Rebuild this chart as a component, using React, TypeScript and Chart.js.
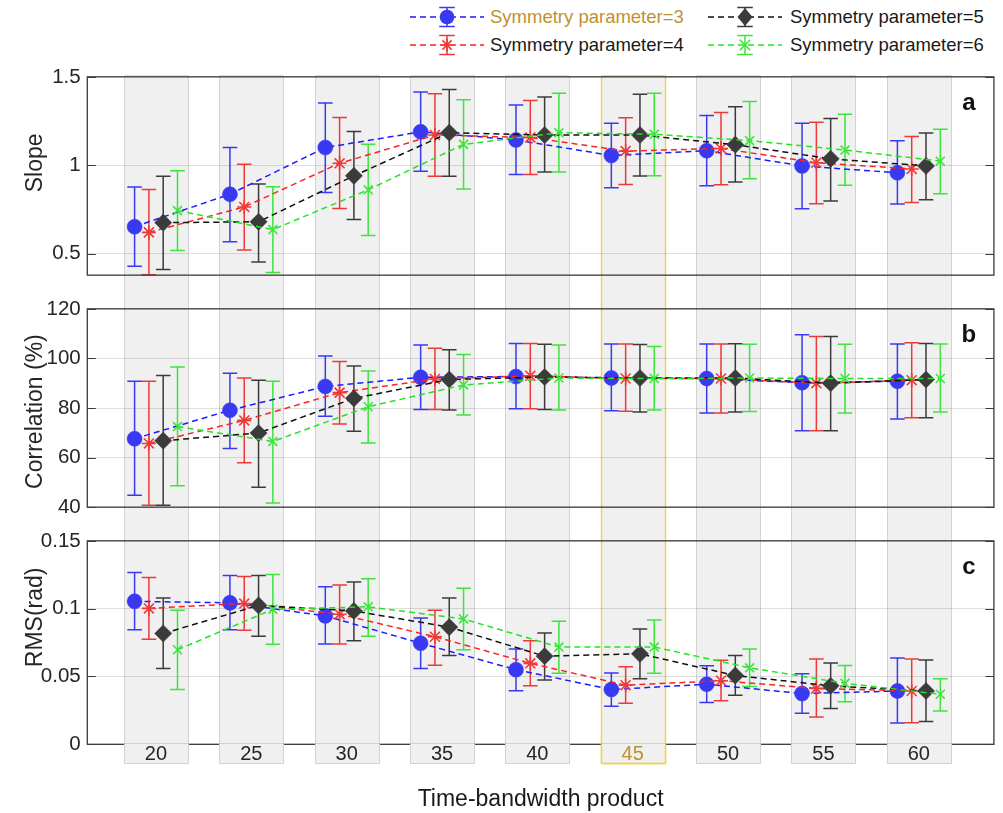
import React, { useEffect, useRef } from 'react';
import { Chart, registerables } from 'chart.js';

Chart.register(...registerables);

const FONT = '"Liberation Sans", Arial, Helvetica, sans-serif';
const AXIS_TEXT = '#262626';
const GOLD_TEXT = '#bf912e';

// Time-bandwidth product categories
const productValues = [20, 25, 30, 35, 40, 45, 50, 55, 60];
const highlightedProduct = 45;
const symmetryParams = [3, 4, 5, 6];

// Slope (mean, lower and upper error bar ends)
const slopeMean3 = [0.652, 0.836, 1.1, 1.189, 1.143, 1.055, 1.082, 0.996, 0.957];
const slopeLow3 = [0.428, 0.567, 0.846, 0.966, 0.948, 0.873, 0.884, 0.753, 0.78];
const slopeHigh3 = [0.877, 1.1, 1.352, 1.414, 1.341, 1.237, 1.282, 1.237, 1.138];
const slopeMean4 = [0.62, 0.764, 1.011, 1.171, 1.157, 1.08, 1.095, 1.014, 0.979];
const slopeLow4 = [0.38, 0.521, 0.755, 0.937, 0.948, 0.891, 0.889, 0.782, 0.789];
const slopeHigh4 = [0.862, 1.005, 1.27, 1.404, 1.366, 1.268, 1.298, 1.243, 1.162];
const slopeMean5 = [0.675, 0.68, 0.94, 1.184, 1.171, 1.171, 1.116, 1.036, 0.996];
const slopeLow5 = [0.41, 0.452, 0.693, 0.937, 0.961, 0.939, 0.905, 0.798, 0.805];
const slopeHigh5 = [0.937, 0.894, 1.191, 1.429, 1.386, 1.402, 1.331, 1.264, 1.182];
const slopeMean6 = [0.743, 0.636, 0.861, 1.118, 1.184, 1.175, 1.139, 1.086, 1.023];
const slopeLow6 = [0.518, 0.393, 0.603, 0.866, 0.961, 0.941, 0.923, 0.886, 0.839];
const slopeHigh6 = [0.968, 0.878, 1.118, 1.37, 1.407, 1.407, 1.361, 1.288, 1.204];

// Correlation (%)
const corrMean3 = [67.6, 79.1, 88.7, 92.4, 92.7, 92.1, 91.9, 90.2, 90.8];
const corrLow3 = [44.8, 63.7, 76.7, 79.4, 79.7, 78.9, 78.0, 70.8, 75.6];
const corrHigh3 = [90.8, 94.0, 101.0, 105.4, 106.0, 105.8, 105.8, 109.6, 105.8];
const corrMean4 = [65.7, 75.0, 86.2, 91.7, 93.0, 91.9, 91.9, 90.0, 91.2];
const corrLow4 = [40.8, 57.9, 73.5, 79.4, 79.7, 78.7, 78.0, 70.8, 76.1];
const corrHigh4 = [90.8, 92.1, 98.8, 104.1, 106.0, 105.8, 105.8, 108.8, 106.3];
const corrMean5 = [66.8, 69.9, 83.9, 91.5, 92.5, 92.1, 92.1, 90.0, 91.5];
const corrLow5 = [40.8, 48.0, 70.6, 79.2, 79.4, 78.4, 78.4, 70.8, 76.1];
const corrHigh5 = [93.1, 91.2, 96.9, 103.5, 105.7, 105.6, 105.9, 108.8, 106.0];
const corrMean6 = [72.5, 66.5, 80.5, 89.3, 92.1, 91.9, 92.1, 91.9, 91.9];
const corrLow6 = [48.6, 41.7, 65.9, 77.2, 79.2, 79.2, 78.6, 78.0, 78.4];
const corrHigh6 = [96.5, 90.8, 94.9, 101.6, 105.4, 104.8, 105.7, 105.7, 105.8];

// RMS (rad)
const rmsMean3 = [0.1054, 0.1043, 0.0947, 0.0745, 0.055, 0.0404, 0.0443, 0.0374, 0.0393];
const rmsLow3 = [0.0845, 0.0845, 0.074, 0.0559, 0.0395, 0.0281, 0.0309, 0.0229, 0.0157];
const rmsHigh3 = [0.1266, 0.1245, 0.1162, 0.0931, 0.0702, 0.0526, 0.0579, 0.0521, 0.0636];
const rmsMean4 = [0.1002, 0.1038, 0.0959, 0.0793, 0.0597, 0.0436, 0.0469, 0.0412, 0.0393];
const rmsLow4 = [0.0774, 0.084, 0.074, 0.0583, 0.0431, 0.0302, 0.0321, 0.0202, 0.0159];
const rmsHigh4 = [0.123, 0.1238, 0.1174, 0.0988, 0.0764, 0.0571, 0.0619, 0.0629, 0.0629];
const rmsMean5 = [0.0817, 0.1024, 0.0983, 0.0864, 0.065, 0.0667, 0.0507, 0.0431, 0.0393];
const rmsLow5 = [0.0559, 0.0797, 0.0764, 0.0655, 0.0474, 0.0483, 0.0362, 0.0264, 0.0169];
const rmsHigh5 = [0.1079, 0.1245, 0.1197, 0.1079, 0.0821, 0.085, 0.0655, 0.06, 0.0621];
const rmsMean6 = [0.0697, 0.0995, 0.1014, 0.0924, 0.0717, 0.0717, 0.0564, 0.045, 0.0369];
const rmsLow6 = [0.0404, 0.0738, 0.0797, 0.0697, 0.0524, 0.0524, 0.0426, 0.0314, 0.0245];
const rmsHigh6 = [0.0988, 0.1252, 0.1221, 0.115, 0.0907, 0.0917, 0.0702, 0.0581, 0.0483];

// Axis ticks
const slopeTicks = [0.5, 1, 1.5];
const correlationTicks = [40, 60, 80, 100, 120];
const rmsTicks = [0, 0.05, 0.1, 0.15];

// Series styling
const seriesLineColors = ['#1c1cff', '#ff2222', '#111111', '#22e422'];
const seriesMarkColors = ['#3939f2', '#ec3a3a', '#3b3b3b', '#3ce43c'];
const seriesPointStyles = ['circle', 'star', 'rectRot', 'crossRot'];
const seriesPointRadius = [7.5, 7, 8.6, 6.3];
const seriesShift = [-1.12, -0.37, 0.38, 1.13];

const X_MIN = 16.4;
const X_MAX = 63.94;
const BAND_HALF = 1.68;
const CAP_HALF = 7.3;

type PanelDef = {
  letter: string;
  title: string;
  titleY: number; // vertical centre of the axis title, measured from the plot top
  min: number;
  max: number;
  ticks: number[];
  means: number[][];
  lows: number[][];
  highs: number[][];
  top: number;
  height: number;
  padTop: number;
  padBottom: number;
  bottomAxis: boolean;
  bandFromArea: boolean;
  bandBottom: number | null;
};

const panels: PanelDef[] = [
  {
    letter: 'a', title: 'Slope', titleY: 86, min: 0.378, max: 1.5, ticks: slopeTicks,
    means: [slopeMean3, slopeMean4, slopeMean5, slopeMean6],
    lows: [slopeLow3, slopeLow4, slopeLow5, slopeLow6],
    highs: [slopeHigh3, slopeHigh4, slopeHigh5, slopeHigh6],
    top: 60, height: 232, padTop: 12.7, padBottom: 10.3, bottomAxis: false,
    bandFromArea: true, bandBottom: null,
  },
  {
    letter: 'b', title: 'Correlation (%)', titleY: 102.7, min: 40, max: 120, ticks: correlationTicks,
    means: [corrMean3, corrMean4, corrMean5, corrMean6],
    lows: [corrLow3, corrLow4, corrLow5, corrLow6],
    highs: [corrHigh3, corrHigh4, corrHigh5, corrHigh6],
    top: 292, height: 232, padTop: 11.3, padBottom: 10.5, bottomAxis: false,
    bandFromArea: false, bandBottom: null,
  },
  {
    letter: 'c', title: 'RMS(rad)', titleY: 76.5, min: 0, max: 0.15, ticks: rmsTicks,
    means: [rmsMean3, rmsMean4, rmsMean5, rmsMean6],
    lows: [rmsLow3, rmsLow4, rmsLow5, rmsLow6],
    highs: [rmsHigh3, rmsHigh4, rmsHigh5, rmsHigh6],
    top: 524, height: 289, padTop: 10.5, padBottom: 0, bottomAxis: true,
    bandFromArea: false, bandBottom: 239.5,
  },
];

function drawBandRects(chart: any, yTop: number, yBottom: number, edgeTop: boolean, edgeBottom: boolean) {
  const ctx = chart.ctx as CanvasRenderingContext2D;
  const xs = chart.scales.x;
  ctx.save();
  ctx.setLineDash([]);
  const order = productValues.filter((v) => v !== highlightedProduct).concat([highlightedProduct]);
  order.forEach((v) => {
    const l = Math.round(xs.getPixelForValue(v - BAND_HALF)) + 0.5;
    const r = Math.round(xs.getPixelForValue(v + BAND_HALF)) + 0.5;
    ctx.fillStyle = '#f0f0f0';
    ctx.fillRect(l, yTop, r - l, yBottom - yTop);
    const hi = v === highlightedProduct;
    ctx.strokeStyle = hi ? '#f3d03c' : '#d2d2d2';
    ctx.lineWidth = hi ? 1.4 : 1;
    ctx.beginPath();
    ctx.moveTo(l, yTop);
    ctx.lineTo(l, yBottom);
    ctx.moveTo(r, yTop);
    ctx.lineTo(r, yBottom);
    if (edgeTop) {
      ctx.moveTo(l, yTop);
      ctx.lineTo(r, yTop);
    }
    if (edgeBottom) {
      ctx.moveTo(l, yBottom);
      ctx.lineTo(r, yBottom);
    }
    ctx.stroke();
  });
  ctx.restore();
}

function makePanelPlugin(panel: PanelDef) {
  return {
    id: 'panelDecor',
    beforeDraw(chart: any) {
      const area = chart.chartArea;
      const top = panel.bandFromArea ? area.top - 1 : 0;
      const bottom = panel.bandBottom != null ? panel.bandBottom : chart.height;
      drawBandRects(chart, top, bottom, panel.bandFromArea, panel.bandBottom != null);
    },
    beforeDatasetsDraw(chart: any) {
      // vertical error bars with caps, drawn under the markers
      const ctx = chart.ctx as CanvasRenderingContext2D;
      const ys = chart.scales.y;
      ctx.save();
      ctx.setLineDash([]);
      ctx.lineWidth = 1.5;
      chart.data.datasets.forEach((ds: any, i: number) => {
        const meta = chart.getDatasetMeta(i);
        ctx.strokeStyle = seriesMarkColors[i];
        meta.data.forEach((pt: any, j: number) => {
          const x = pt.x;
          const yl = ys.getPixelForValue(ds.errLow[j]);
          const yh = ys.getPixelForValue(ds.errHigh[j]);
          ctx.beginPath();
          ctx.moveTo(x, yl);
          ctx.lineTo(x, yh);
          ctx.moveTo(x - CAP_HALF, yl);
          ctx.lineTo(x + CAP_HALF, yl);
          ctx.moveTo(x - CAP_HALF, yh);
          ctx.lineTo(x + CAP_HALF, yh);
          ctx.stroke();
        });
      });
      ctx.restore();
    },
    afterDatasetsDraw(chart: any) {
      const ctx = chart.ctx as CanvasRenderingContext2D;
      const { left, right, top, bottom } = chart.chartArea;
      const ys = chart.scales.y;
      ctx.save();
      ctx.setLineDash([]);
      ctx.strokeStyle = '#3a3a3a';
      ctx.lineWidth = 1.3;
      ctx.strokeRect(left, top, right - left, bottom - top);
      ctx.beginPath();
      panel.ticks.forEach((t) => {
        const y = Math.round(ys.getPixelForValue(t)) + 0.5;
        ctx.moveTo(left, y);
        ctx.lineTo(left + 8.5, y);
        ctx.moveTo(right - 8.5, y);
        ctx.lineTo(right, y);
      });
      ctx.lineWidth = 1;
      ctx.stroke();
      ctx.restore();
      if (panel.bandBottom != null) {
        // label boxes under the bottom axis sit above the frame line
        drawBandRects(chart, bottom - 0.8, panel.bandBottom, false, true);
      }
    },
    afterDraw(chart: any) {
      const ctx = chart.ctx as CanvasRenderingContext2D;
      const { right, top } = chart.chartArea;
      ctx.save();
      ctx.font = `bold 24px ${FONT}`;
      ctx.fillStyle = '#111111';
      ctx.textAlign = 'center';
      ctx.textBaseline = 'alphabetic';
      ctx.fillText(panel.letter, right - 25, top + 33);
      // rotated axis title
      ctx.font = `23px ${FONT}`;
      ctx.fillStyle = AXIS_TEXT;
      ctx.textBaseline = 'middle';
      ctx.translate(35.3, top + panel.titleY);
      ctx.rotate(-Math.PI / 2);
      ctx.fillText(panel.title, 0, 0);
      ctx.restore();
    },
  };
}

function PanelChart({ panel }: { panel: PanelDef }) {
  const ref = useRef<HTMLCanvasElement>(null);
  useEffect(() => {
    const canvas = ref.current;
    if (!canvas) return;
    const datasets = symmetryParams.map((p, i) => ({
      label: `Symmetry parameter=${p}`,
      data: productValues.map((v, j) => ({ x: v + seriesShift[i], y: panel.means[i][j] })),
      errLow: panel.lows[i],
      errHigh: panel.highs[i],
      showLine: true,
      borderColor: seriesLineColors[i],
      borderWidth: 1.5,
      borderDash: [6, 4],
      pointStyle: seriesPointStyles[i],
      pointRadius: seriesPointRadius[i],
      pointHoverRadius: seriesPointRadius[i],
      pointBackgroundColor: i === 0 || i === 2 ? seriesMarkColors[i] : 'rgba(0,0,0,0)',
      pointBorderColor: seriesMarkColors[i],
      pointBorderWidth: i === 0 || i === 2 ? 0.5 : 1.6,
      order: 3 - i,
      tension: 0,
    }));
    const chart = new Chart(canvas, {
      type: 'scatter',
      data: { datasets: datasets as any },
      plugins: [makePanelPlugin(panel)],
      options: {
        animation: false,
        responsive: false,
        devicePixelRatio: 1,
        events: [],
        layout: { padding: { top: panel.padTop, bottom: panel.padBottom, left: 0, right: 6 } },
        plugins: { legend: { display: false }, tooltip: { enabled: false } },
        scales: {
          x: {
            type: 'linear',
            min: X_MIN,
            max: X_MAX,
            display: panel.bottomAxis,
            grid: { display: false, drawTicks: false },
            border: { display: false },
            afterBuildTicks: (s: any) => {
              s.ticks = productValues.map((v) => ({ value: v }));
            },
            afterFit: (s: any) => {
              s.height = panel.bottomAxis ? 68.7 : 0;
            },
            ticks: {
              z: 1,
              padding: 0.5,
              autoSkip: false,
              maxRotation: 0,
              font: { family: FONT, size: 20, lineHeight: 1 },
              color: (c: any) => (c.tick && c.tick.value === highlightedProduct ? GOLD_TEXT : AXIS_TEXT),
              callback: (v: any) => String(v),
            },
            title: {
              display: true,
              text: 'Time-bandwidth product',
              color: '#1a1a1a',
              font: { family: FONT, size: 23, lineHeight: 1.2 },
              padding: { top: 0, bottom: 0 },
            },
          },
          y: {
            type: 'linear',
            position: 'left',
            min: panel.min,
            max: panel.max,
            afterBuildTicks: (s: any) => {
              s.ticks = panel.ticks.map((v) => ({ value: v }));
            },
            afterFit: (s: any) => {
              s.width = 87.3;
            },
            grid: { color: 'rgba(0,0,0,0.12)', lineWidth: 1, drawTicks: false },
            border: { display: false },
            ticks: {
              padding: 6.6,
              font: { family: FONT, size: 20.5, lineHeight: 1 },
              color: AXIS_TEXT,
              callback: (v: any) => String(v),
            },
            title: { display: false },
          },
        },
      } as any,
    });
    return () => chart.destroy();
  }, [panel]);
  return (
    <canvas
      ref={ref}
      width={1003}
      height={panel.height}
      style={{ position: 'absolute', left: 0, top: panel.top, width: 1003, height: panel.height, display: 'block' }}
    />
  );
}

function LegendIcon({ i }: { i: number }) {
  const w = 74;
  const h = 30;
  const cx = 37;
  const cy = 15;
  const mark = seriesMarkColors[i];
  let marker: React.ReactNode = null;
  if (i === 0) {
    marker = <circle cx={cx} cy={cy} r={7.3} fill={mark} />;
  } else if (i === 1) {
    const r = 6.5;
    const d = r * 0.7071;
    marker = (
      <g stroke={mark} strokeWidth={1.6}>
        <line x1={cx - r} y1={cy} x2={cx + r} y2={cy} />
        <line x1={cx} y1={cy - r} x2={cx} y2={cy + r} />
        <line x1={cx - d} y1={cy - d} x2={cx + d} y2={cy + d} />
        <line x1={cx - d} y1={cy + d} x2={cx + d} y2={cy - d} />
      </g>
    );
  } else if (i === 2) {
    marker = <polygon points={`${cx},${cy - 9} ${cx + 7.5},${cy} ${cx},${cy + 9} ${cx - 7.5},${cy}`} fill={mark} />;
  } else {
    const d = 5.2;
    marker = (
      <g stroke={mark} strokeWidth={1.6}>
        <line x1={cx - d} y1={cy - d} x2={cx + d} y2={cy + d} />
        <line x1={cx - d} y1={cy + d} x2={cx + d} y2={cy - d} />
      </g>
    );
  }
  return (
    <svg width={w} height={h} style={{ display: 'block' }}>
      <line x1={0} y1={cy} x2={w} y2={cy} stroke={seriesLineColors[i]} strokeWidth={1.5} strokeDasharray="6 4" />
      <g stroke={mark} strokeWidth={1.5}>
        <line x1={cx} y1={cy - 9.5} x2={cx} y2={cy + 9.5} />
        <line x1={cx - 7.8} y1={cy - 9.5} x2={cx + 7.8} y2={cy - 9.5} />
        <line x1={cx - 7.8} y1={cy + 9.5} x2={cx + 7.8} y2={cy + 9.5} />
      </g>
      {marker}
    </svg>
  );
}

const legendIconLeft = [410, 410, 708, 708];
const legendTextLeft = [490, 490, 790, 790];
const legendRowCenter = [17, 45, 17, 45];

function Legend() {
  return (
    <>
      {symmetryParams.map((p, i) => (
        <React.Fragment key={p}>
          <div style={{ position: 'absolute', left: legendIconLeft[i], top: legendRowCenter[i] - 15 }}>
            <LegendIcon i={i} />
          </div>
          <div
            style={{
              position: 'absolute',
              left: legendTextLeft[i],
              top: legendRowCenter[i] - 12,
              height: 24,
              lineHeight: '24px',
              fontFamily: FONT,
              fontSize: 18.5,
              whiteSpace: 'nowrap',
              color: p === 3 ? GOLD_TEXT : '#1a1a1a',
            }}
          >
            {`Symmetry parameter=${p}`}
          </div>
        </React.Fragment>
      ))}
    </>
  );
}

export default function App() {
  return (
    <div
      style={{
        position: 'absolute',
        left: 0,
        top: 0,
        width: 1003,
        height: 813,
        overflow: 'hidden',
        background: '#ffffff',
      }}
    >
      <Legend />
      {panels.map((p) => (
        <PanelChart key={p.letter} panel={p} />
      ))}
    </div>
  );
}
